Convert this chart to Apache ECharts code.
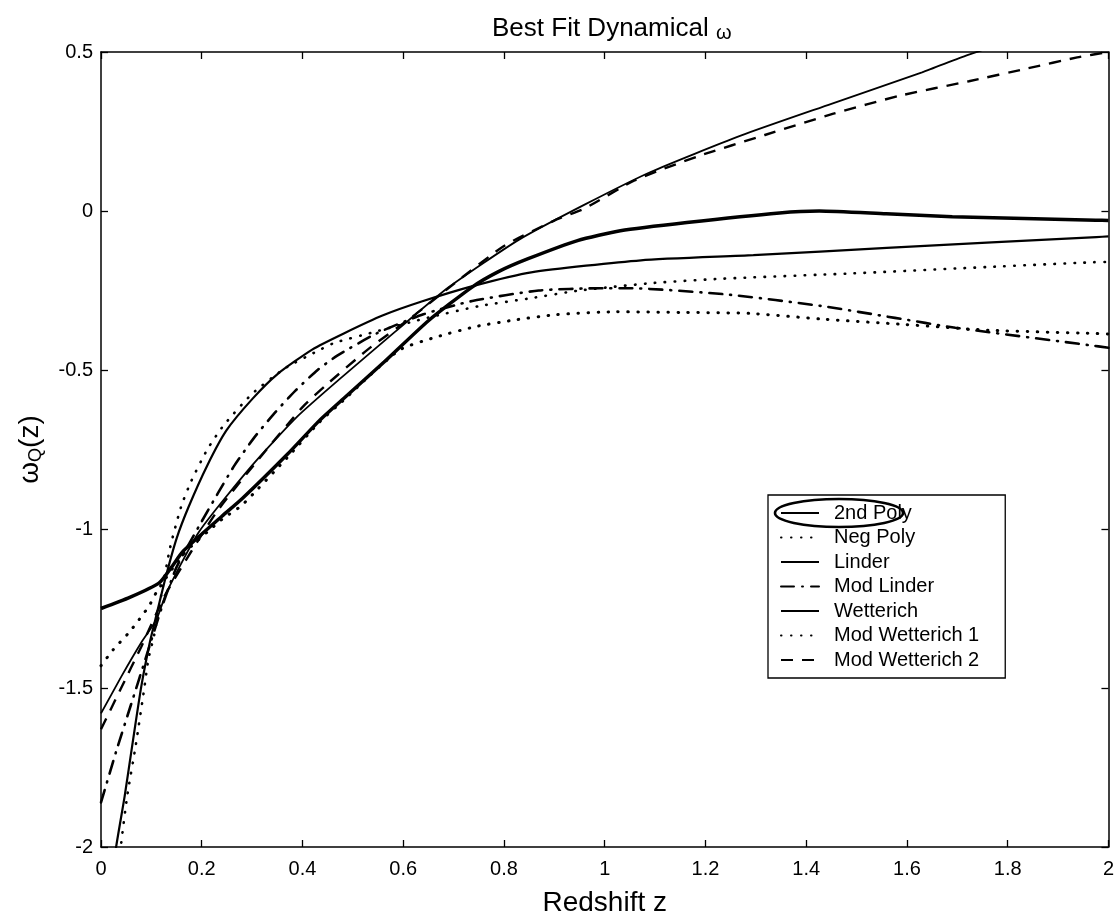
<!DOCTYPE html>
<html><head><meta charset="utf-8">
<script src="https://cdn.jsdelivr.net/npm/echarts@6/dist/echarts.min.js"></script>
<style>html,body{margin:0;padding:0;background:#fff}#c{width:1117px;height:922px}</style>
</head><body><div id="c"></div>
<script>
// ---- data (redshift z, w_Q(z)) ----
const seriesNames = ['2nd Poly','Neg Poly','Linder','Mod Linder','Wetterich','Mod Wetterich 1','Mod Wetterich 2'];

const polyZ = [0, 0.04, 0.08, 0.11, 0.13, 0.195, 0.30, 0.39, 0.48, 0.58, 0.69, 0.83, 0.96, 1.09, 1.27, 1.45, 1.63, 1.72, 1.85];
const polyW = [-1.58, -1.465, -1.357, -1.285, -1.2, -1.008, -0.8, -0.646, -0.52, -0.385, -0.24, -0.09, 0.02, 0.122, 0.237, 0.337, 0.436, 0.49, 0.56];

const negPolyZ = [0, 0.024, 0.057, 0.095, 0.11, 0.163, 0.24, 0.28, 0.37, 0.433, 0.485, 0.535, 0.595, 0.666, 0.745, 0.824, 0.903, 1.022, 1.155, 1.288, 1.432, 1.597, 1.763, 1.97, 2.0];
const negPolyW = [-1.43, -1.38, -1.323, -1.243, -1.199, -1.08, -0.97, -0.925, -0.775, -0.665, -0.59, -0.515, -0.435, -0.396, -0.363, -0.342, -0.326, -0.317, -0.319, -0.322, -0.34, -0.357, -0.375, -0.385, -0.387];

const linderZ = [0, 0.057, 0.115, 0.14, 0.163, 0.24, 0.28, 0.37, 0.433, 0.485, 0.562, 0.65, 0.736, 0.79, 0.848, 0.946, 1.031, 1.163, 1.347, 1.426, 1.559, 1.69, 1.975, 2.0];
const linderW = [-1.25, -1.215, -1.17, -1.12, -1.07, -0.96, -0.905, -0.765, -0.66, -0.585, -0.475, -0.345, -0.24, -0.19, -0.15, -0.093, -0.062, -0.036, -0.006, 0.0, -0.009, -0.018, -0.029, -0.03];

const modLinderZ = [0, 0.03, 0.06, 0.09, 0.12, 0.15, 0.195, 0.233, 0.265, 0.303, 0.342, 0.386, 0.43, 0.469, 0.547, 0.64, 0.737, 0.869, 0.99, 1.05, 1.246, 1.431, 1.576, 1.696, 1.962, 2.0];
const modLinderW = [-1.86, -1.70, -1.55, -1.40, -1.25, -1.12, -0.99, -0.885, -0.80, -0.715, -0.64, -0.565, -0.50, -0.455, -0.385, -0.325, -0.283, -0.25, -0.243, -0.243, -0.263, -0.299, -0.336, -0.367, -0.422, -0.43];

const wettZ = [0.024, 0.03, 0.047, 0.063, 0.08, 0.097, 0.108, 0.129, 0.15, 0.174, 0.211, 0.249, 0.301, 0.351, 0.42, 0.482, 0.56, 0.638, 0.736, 0.854, 1.072, 1.295, 1.56, 1.976, 2.0];
const wettW = [-2.08, -2.0, -1.84, -1.67, -1.495, -1.356, -1.284, -1.148, -1.03, -0.93, -0.80, -0.69, -0.59, -0.512, -0.435, -0.385, -0.328, -0.284, -0.237, -0.193, -0.155, -0.139, -0.116, -0.082, -0.08];

const modWett1Z = [0.035, 0.04, 0.052, 0.069, 0.086, 0.094, 0.106, 0.116, 0.137, 0.159, 0.179, 0.211, 0.243, 0.30, 0.365, 0.43, 0.463, 0.541, 0.65, 0.751, 0.85, 0.95, 1.099, 1.232, 1.494, 1.761, 1.971, 2.0];
const modWett1W = [-2.08, -1.99, -1.84, -1.68, -1.50, -1.41, -1.33, -1.24, -1.06, -0.93, -0.85, -0.75, -0.675, -0.575, -0.495, -0.44, -0.415, -0.381, -0.335, -0.299, -0.275, -0.25, -0.226, -0.213, -0.196, -0.176, -0.161, -0.16];

const modWett2Z = [0, 0.04, 0.08, 0.13, 0.228, 0.311, 0.401, 0.445, 0.53, 0.62, 0.70, 0.80, 0.90, 0.96, 1.059, 1.185, 1.318, 1.454, 1.587, 1.723, 1.841, 1.938, 2.0];
const modWett2W = [-1.63, -1.50, -1.37, -1.20, -0.95, -0.784, -0.615, -0.55, -0.435, -0.33, -0.23, -0.11, -0.03, 0.008, 0.096, 0.172, 0.239, 0.306, 0.363, 0.408, 0.449, 0.483, 0.50];

const xTickStep = 0.2, yTickStep = 0.5;

// ---- build ----
const zip = (zs, ws) => zs.map((z, i) => [z, ws[i]]);
const solid = 'solid', dotted = [0.5, 9.5], dashed = [12, 9], dashDot = [13, 8, 1, 8];
const styles = [
  {type: solid, width: 1.8, cap: 'butt'},
  {type: dotted, width: 3, cap: 'round'},
  {type: solid, width: 3.5, cap: 'butt'},
  {type: dashDot, width: 2.6, cap: 'round'},
  {type: solid, width: 2.2, cap: 'butt'},
  {type: dotted, width: 2.6, cap: 'round'},
  {type: dashed, width: 2.4, cap: 'butt'}
];
const datasets = [zip(polyZ, polyW), zip(negPolyZ, negPolyW), zip(linderZ, linderW), zip(modLinderZ, modLinderW),
                  zip(wettZ, wettW), zip(modWett1Z, modWett1W), zip(modWett2Z, modWett2W)];

const FONT = '"Liberation Sans", Arial, Helvetica, sans-serif';
const chart = echarts.init(document.getElementById('c'), null, {renderer: 'canvas'});
const axisCommon = () => ({
  axisLine: {show: true, onZero: false, lineStyle: {color: '#000', width: 1.5}},
  axisTick: {show: true, inside: true, length: 7, lineStyle: {color: '#000', width: 1.3}},
  splitLine: {show: false}
});
chart.setOption({
  animation: false,
  backgroundColor: '#fff',
  textStyle: {fontFamily: FONT, color: '#000'},
  title: {
    text: 'Best Fit Dynamical {w|ω}',
    left: 487, top: 10,
    textStyle: {fontFamily: FONT, fontSize: 26, fontWeight: 'normal', color: '#000',
      rich: {w: {fontFamily: FONT, fontSize: 20, color: '#000', verticalAlign: 'bottom', padding: [8, 0, 0, 0]}}}
  },
  grid: {left: 101, right: 6, top: 52, bottom: 74, containLabel: false},
  xAxis: [
    Object.assign({type: 'value', position: 'bottom', min: 0, max: 2, interval: xTickStep,
      axisLabel: {color: '#000', fontSize: 20, fontFamily: FONT, margin: 12},
      name: 'Redshift z', nameLocation: 'middle', nameGap: 42,
      nameTextStyle: {fontSize: 28, fontFamily: FONT, color: '#000'}}, axisCommon()),
    Object.assign({type: 'value', position: 'top', min: 0, max: 2, interval: xTickStep,
      axisLabel: {show: false}}, axisCommon())
  ],
  yAxis: [
    Object.assign({type: 'value', position: 'left', min: -2, max: 0.5, interval: yTickStep,
      axisLabel: {color: '#000', fontSize: 20, fontFamily: FONT, margin: 8},
      name: '{a|ω}{b|Q}{a|(z)}', nameLocation: 'middle', nameGap: 56,
      nameTextStyle: {fontFamily: FONT, color: '#000',
        rich: {a: {fontSize: 28, fontFamily: FONT, color: '#000', lineHeight: 30},
               b: {fontSize: 18, fontFamily: FONT, color: '#000', lineHeight: 14, verticalAlign: 'bottom'}}}}, axisCommon()),
    Object.assign({type: 'value', position: 'right', min: -2, max: 0.5, interval: yTickStep,
      axisLabel: {show: false}}, axisCommon())
  ],
  legend: {
    orient: 'vertical', left: 768, top: 495,
    data: seriesNames,
    backgroundColor: '#fff', borderColor: '#000', borderWidth: 1.3, borderRadius: 0,
    padding: [8, 26, 8, 12],
    itemWidth: 38, itemHeight: 14, itemGap: 4.5,
    itemStyle: {opacity: 0},
    textStyle: {fontFamily: FONT, fontSize: 20, color: '#000', lineHeight: 20, padding: [0, 0, 0, 10]},
    selectedMode: false
  },
  graphic: [{
    type: 'ellipse', z: 100,
    shape: {cx: 839, cy: 513, rx: 64, ry: 14},
    style: {fill: 'none', stroke: '#000', lineWidth: 2.6}
  }],
  series: seriesNames.map((name, i) => ({
    name, type: 'line', xAxisIndex: 0, yAxisIndex: 0,
    data: datasets[i], symbol: 'none', showSymbol: false,
    smooth: 0.2, clip: true,
    lineStyle: Object.assign({color: '#000'}, styles[i]),
    itemStyle: {color: '#000'},
    emphasis: {disabled: true}
  }))
});
</script></body></html>
